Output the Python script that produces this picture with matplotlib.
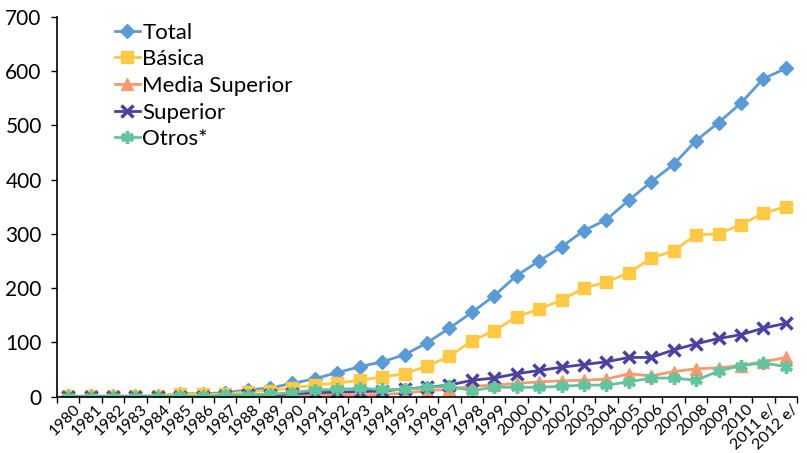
import matplotlib
matplotlib.use("Agg")
from matplotlib import pyplot as plt
from matplotlib.transforms import ScaledTranslation
import numpy

plt.rcParams["font.family"] = ["Lato", "DejaVu Sans"]
plt.rcParams["font.style"] = "normal"

years = [str(y) for y in range(1980, 2011)] + ["2011 e/", "2012 e/"]

total = [0.5, 0.6, 0.7, 0.8, 1, 5, 5, 7, 12, 16,
         24, 33, 44, 55, 64, 77, 99, 126, 155, 186,
         223, 250, 276, 306, 326, 362, 396, 428, 472, 505,
         541, 586, 605]
basica = [0.5, 0.5, 0.5, 0.6, 0.7, 4, 4, 4, 9, 11,
          16, 21, 25, 30, 36, 42, 56, 74, 103, 121,
          147, 161, 178, 200, 211, 228, 255, 269, 298, 300,
          317, 338, 350]
media_sup = [0, 0, 0, 0, 0, 0, 0, 0, 0.5, 0.5,
             1, 2, 3, 3, 4, 6, 11, 13, 19, 21,
             24, 27, 29, 30, 32, 42, 38, 46, 51, 53,
             57, 64, 72]
superior = [0, 0, 0, 0, 0, 0, 0, 1, 2, 3,
            5, 7, 8, 9, 10, 14, 17, 21, 30, 34,
            42, 48, 54, 59, 64, 72, 72, 86, 97, 107,
            114, 126, 135]
otros = [0, 0, 0, 0, 0, 0.5, 0.5, 2, 3, 4,
         7, 12, 13, 15, 13, 13, 17, 19, 11, 17,
         17, 17, 19, 21, 21, 27, 34, 34, 30, 47,
         57, 62, 55]

x = numpy.arange(len(years))

fig = plt.figure(figsize=(8.07, 4.53), dpi=100)
ax = fig.add_axes([0.0706, 0.1247, 0.917, 0.838])

series = [
    ("Total", total, "#5B9BD5", "D", 7, 1),
    ("Básica", basica, "#FFC845", "s", 8, 1),
    ("Media Superior", media_sup, "#F79A70", "^", 8, 1),
    ("Superior", superior, "#4A429E", "x", 8, 2.5),
    ("Otros*", otros, "#62C49C", (6, 2, 0), 9, 2.5),
]

for name, vals, col, mk, ms, mew in series:
    ax.plot(x, vals, color=col, marker=mk, markersize=ms, markeredgewidth=mew,
            markeredgecolor=col, markerfacecolor=col, linewidth=2, label=name)

ax.set_xlim(-0.5, len(years) - 0.5)
ax.set_ylim(0, 700)
ax.set_yticks(numpy.arange(0, 701, 100))
ax.tick_params(axis="y", labelsize=15, length=4, direction="out", width=1, pad=7)

ax.set_xticks(x)
ax.set_xticklabels(years, rotation=45, ha="right", rotation_mode="anchor",
                   fontsize=11.5, fontstyle="normal")
ax.set_xticks(numpy.arange(-0.5, len(years), 1), minor=True)
ax.tick_params(axis="x", which="major", length=0, pad=4)
ax.tick_params(axis="x", which="minor", length=4, direction="out", width=1)

# excel puts the rotated labels a little right of the tick
shift = ScaledTranslation(5 / 100, 0, fig.dpi_scale_trans)
for lab in ax.get_xticklabels():
    lab.set_transform(lab.get_transform() + shift)

for s in ["top", "right"]:
    ax.spines[s].set_visible(False)
ax.spines["left"].set_linewidth(1.2)
ax.spines["bottom"].set_linewidth(1.2)

leg = ax.legend(loc="upper left", bbox_to_anchor=(0.078, 0.985), frameon=False,
                fontsize=16, handlelength=1.15, handletextpad=0.1,
                labelspacing=0.3, borderaxespad=0, borderpad=0)

fig.savefig("out.png", dpi=100)
